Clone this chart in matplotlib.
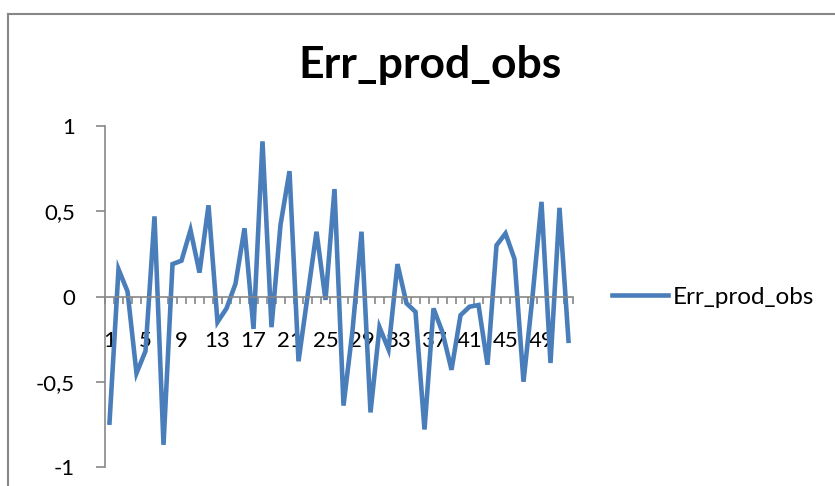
import matplotlib
matplotlib.use("Agg")
import matplotlib.pyplot as plt
from matplotlib.lines import Line2D

plt.rcParams['font.family'] = ['Lato', 'DejaVu Sans']

title = "Err_prod_obs"
series_name = "Err_prod_obs"
categories = list(range(1, 53))
values = [-0.74, 0.16, 0.03, -0.45, -0.32, 0.47, -0.87, 0.19, 0.21, 0.39,
          0.14, 0.535, -0.15, -0.07, 0.075, 0.40, -0.19, 0.91, -0.18, 0.42,
          0.735, -0.38, 0.0, 0.38, -0.02, 0.63, -0.64, -0.20, 0.38, -0.68,
          -0.18, -0.31, 0.19, -0.04, -0.09, -0.78, -0.07, -0.21, -0.43, -0.11,
          -0.06, -0.05, -0.40, 0.30, 0.37, 0.22, -0.50, 0.0, 0.555, -0.39,
          0.52, -0.26]
x_labels = [str(c) for c in categories[::4]]
y_ticks = [-1, -0.5, 0, 0.5, 1]
y_labels = ["-1", "-0,5", "0", "0,5", "1"]

W, H = 835, 486
fig = plt.figure(figsize=(W / 100, H / 100), dpi=100)

# chart area frame (left and top edges visible)
gray = '#878787'
fig.add_artist(Line2D([8 / W, 8 / W], [0, 1 - 14 / H], color=gray, lw=1.5))
fig.add_artist(Line2D([8 / W, 1], [1 - 14 / H, 1 - 14 / H], color=gray, lw=1.5))

left, right = 105 / W, 573 / W
top, bottom = 1 - 126 / H, 1 - 467 / H
ax = fig.add_axes([left, bottom, right - left, top - bottom])

ax.plot(categories, values, color='#4A7EBB', lw=3.3, solid_joinstyle='miter',
        label=series_name, clip_on=False)

ax.set_xlim(0.5, len(categories) + 0.5)
ax.set_ylim(-1, 1)

for s in ['top', 'right']:
    ax.spines[s].set_visible(False)
ax.spines['bottom'].set_position(('data', 0))
ax.spines['bottom'].set_color(gray)
ax.spines['left'].set_color(gray)
ax.spines['bottom'].set_linewidth(1.2)
ax.spines['left'].set_linewidth(1.2)

ax.set_xticks(categories[::4])
ax.set_xticklabels(x_labels)
ax.set_xticks([c - 0.5 for c in categories] + [len(categories) + 0.5], minor=True)
ax.tick_params(axis='x', which='major', length=0, pad=24.5, labelsize=16, colors='black')
ax.tick_params(axis='x', which='minor', length=5, width=1.2, color=gray, direction='out')

ax.set_yticks(y_ticks)
ax.set_yticklabels(y_labels)
ax.tick_params(axis='y', length=6.5, width=1.2, color=gray, direction='out',
               pad=15, labelsize=16, labelcolor='black')

fig.text(430 / W, 1 - 65 / H, title, ha='center', va='center',
         fontsize=32, fontweight='bold')

ax.legend(loc='center left', bbox_to_anchor=(612 / W, 1 - 297 / H),
          bbox_transform=fig.transFigure, frameon=False, fontsize=17.5,
          handlelength=2.3, handletextpad=0.2, borderpad=0, borderaxespad=0)

fig.savefig('out.png', dpi=100)
